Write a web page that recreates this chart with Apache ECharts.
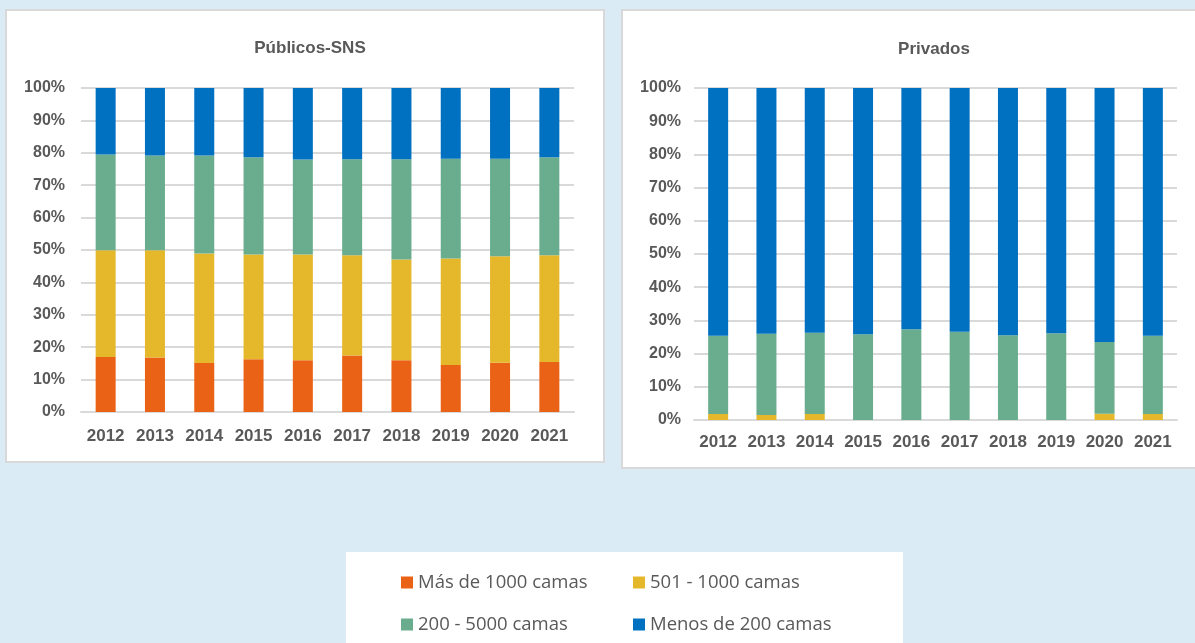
<!DOCTYPE html>
<html>
<head>
<meta charset="utf-8">
<title>Hospitales por tamaño</title>
<script src="https://cdn.jsdelivr.net/npm/echarts@6/dist/echarts.min.js"></script>
<style>
  html, body { margin: 0; padding: 0; background: #DBEBF5; }
  #main { width: 1195px; height: 643px; }
</style>
</head>
<body>
<div id="main"></div>
<script>
// años
var years = ['2012', '2013', '2014', '2015', '2016', '2017', '2018', '2019', '2020', '2021'];
var seriesNames = ['Más de 1000 camas', '501 - 1000 camas', '200 - 5000 camas', 'Menos de 200 camas'];

// Públicos-SNS (%)
var pubMas1000 = [17.0, 16.8, 15.1, 16.3, 16.0, 17.4, 16.0, 14.5, 15.2, 15.4];
var pub501a1000 = [32.9, 33.1, 33.8, 32.3, 32.6, 31.0, 31.1, 32.9, 32.9, 33.0];
var pub200a5000 = [29.6, 29.3, 30.3, 30.0, 29.3, 29.6, 30.9, 30.8, 30.1, 30.2];
var pubMenos200 = [20.5, 20.8, 20.8, 21.4, 22.1, 22.0, 22.0, 21.8, 21.8, 21.4];

// Privados (%)
var privMas1000 = [0, 0, 0, 0, 0, 0, 0, 0, 0, 0];
var priv501a1000 = [1.8, 1.5, 1.8, 0, 0, 0, 0, 0, 1.9, 1.8];
var priv200a5000 = [23.6, 24.5, 24.5, 25.8, 27.3, 26.6, 25.5, 26.1, 21.6, 23.6];
var privMenos200 = [74.6, 74.0, 73.7, 74.2, 72.7, 73.4, 74.5, 73.9, 76.5, 74.6];

var colors = ['#EA6215', '#E5B82C', '#69AD8E', '#0070C0'];

var axisFont = '"Liberation Sans", Arial, sans-serif';
var legendFont = '"Open Sans", "Noto Sans", sans-serif';

var chart = echarts.init(document.getElementById('main'));

function mkSeries(data, idx, axisIdx, stack) {
  return {
    name: seriesNames[idx],
    type: 'bar',
    stack: stack,
    xAxisIndex: axisIdx,
    yAxisIndex: axisIdx,
    barWidth: 20,
    itemStyle: { color: colors[idx] },
    data: data
  };
}

function mkYAxis(idx, margin) {
  return {
    type: 'value', gridIndex: idx, min: 0, max: 100, interval: 10,
    axisLine: { show: false }, axisTick: { show: false },
    splitLine: { lineStyle: { color: '#D9D9D9', width: 2 } },
    axisLabel: {
      formatter: '{value}%', margin: margin, color: '#595959',
      fontFamily: axisFont, fontWeight: 'bold', fontSize: 16
    }
  };
}

function mkXAxis(idx, margin) {
  return {
    type: 'category', gridIndex: idx, data: years,
    axisLine: { lineStyle: { color: '#D9D9D9', width: 2 } },
    axisTick: { show: false },
    axisLabel: {
      interval: 0, margin: margin, color: '#595959',
      fontFamily: axisFont, fontWeight: 'bold', fontSize: 17
    }
  };
}

function mkLegend(name, left, top) {
  return {
    data: [name], left: left, top: top,
    icon: 'rect', itemWidth: 12, itemHeight: 12,
    selectedMode: false,
    textStyle: { fontSize: 18.5, color: '#595959', fontFamily: legendFont }
  };
}

chart.setOption({
  backgroundColor: '#DBEBF5',
  animation: false,
  graphic: [
    { type: 'rect', shape: { x: 6, y: 10, width: 598, height: 452 },
      style: { fill: '#ffffff', stroke: '#D9D9D9', lineWidth: 2 }, z: -10 },
    { type: 'rect', shape: { x: 622, y: 10, width: 580, height: 458 },
      style: { fill: '#ffffff', stroke: '#D9D9D9', lineWidth: 2 }, z: -10 },
    { type: 'rect', shape: { x: 346, y: 552, width: 557, height: 100 },
      style: { fill: '#ffffff' }, z: -10 }
  ],
  title: [
    { text: 'Públicos-SNS', left: 305, top: 35, textAlign: 'center',
      textStyle: { fontFamily: axisFont, fontWeight: 'bold', fontSize: 17, color: '#595959' } },
    { text: 'Privados', left: 929, top: 36, textAlign: 'center',
      textStyle: { fontFamily: axisFont, fontWeight: 'bold', fontSize: 17, color: '#595959' } }
  ],
  legend: [
    mkLegend(seriesNames[0], 396, 568),
    mkLegend(seriesNames[1], 628, 568),
    mkLegend(seriesNames[2], 396, 610),
    mkLegend(seriesNames[3], 628, 610)
  ],
  grid: [
    { left: 81, right: 621, top: 88, bottom: 231 },
    { left: 694, right: 18, top: 88, bottom: 223 }
  ],
  xAxis: [mkXAxis(0, 16), mkXAxis(1, 14)],
  yAxis: [mkYAxis(0, 16), mkYAxis(1, 13)],
  series: [
    mkSeries(pubMas1000, 0, 0, 'pub'),
    mkSeries(pub501a1000, 1, 0, 'pub'),
    mkSeries(pub200a5000, 2, 0, 'pub'),
    mkSeries(pubMenos200, 3, 0, 'pub'),
    mkSeries(privMas1000, 0, 1, 'priv'),
    mkSeries(priv501a1000, 1, 1, 'priv'),
    mkSeries(priv200a5000, 2, 1, 'priv'),
    mkSeries(privMenos200, 3, 1, 'priv')
  ]
});
</script>
</body>
</html>
